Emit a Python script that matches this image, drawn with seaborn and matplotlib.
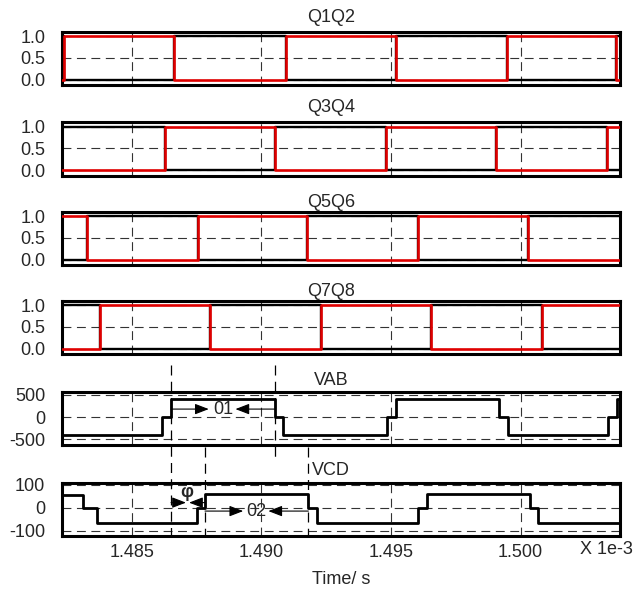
import numpy as np
import pandas as pd
import seaborn as sns
import matplotlib.pyplot as plt
from matplotlib.transforms import blended_transform_factory

# time axis in units of 1e-3 s
t_start, t_end = 1.48230, 1.50384
x_ticks = [1.485, 1.490, 1.495, 1.500]
x_tick_labels = ['1.485', '1.490', '1.495', '1.500']

# gate signals: edge times and the red trace level after each edge (black = complement)
q12_t = [t_start, 1.48238, 1.48663, 1.49093, 1.49519, 1.49947, 1.50369]
q12_red = [0, 1, 0, 1, 0, 1, 0]
q34_t = [t_start, 1.48627, 1.49052, 1.49481, 1.49905, 1.50333]
q34_red = [0, 1, 0, 1, 0, 1]
q56_t = [t_start, 1.48327, 1.48754, 1.49177, 1.49605, 1.50030]
q56_red = [1, 0, 1, 0, 1, 0]
q78_t = [t_start, 1.48376, 1.48801, 1.49230, 1.49653, 1.50082]
q78_red = [0, 1, 0, 1, 0, 1]

# bridge voltages
vab_t = [t_start, 1.48617, 1.48651, 1.49052, 1.49084, 1.49483, 1.49519,
         1.49918, 1.49951, 1.50337, 1.50371]
vab_v = [-400, 0, 400, 0, -400, 0, 400, 0, -400, 0, 400]
vcd_t = [t_start, 1.48312, 1.48364, 1.48750, 1.48782, 1.49181, 1.49213,
         1.49605, 1.49640, 1.50037, 1.50069]
vcd_v = [55, 0, -65, 0, 60, 0, -65, 0, 60, 0, -65]

titles = ['Q1Q2', 'Q3Q4', 'Q5Q6', 'Q7Q8', 'VAB', 'VCD']
title_pads = [7.2, 7.6, 3.6, 3.4, 4.8, 5.5]

sns.set_style('white')
plt.rcParams['font.family'] = ['Liberation Sans', 'DejaVu Sans']
plt.rcParams['font.size'] = 13

RED = '#e00000'
GRID = dict(color='#333333', linewidth=0.8, linestyle=(0, (8, 5)))

W, H = 634, 589
fig = plt.figure(figsize=(W / 100, H / 100), dpi=100)
tops_px = [31.7, 122.3, 211.7, 300.7, 391.7, 482.5]
h_px = 53.5
left_px, right_px = 62, 620


def steps(ax, t, v, color, lw):
    x = list(t) + [t_end]
    y = list(v) + [v[-1]]
    sns.lineplot(x=x, y=y, ax=ax, color=color, lw=lw, drawstyle='steps-post',
                 estimator=None, sort=False, legend=False, zorder=3)


axes = []
for i, top in enumerate(tops_px):
    ax = fig.add_axes([left_px / W, 1 - (top + h_px) / H, (right_px - left_px) / W, h_px / H])
    axes.append(ax)

gates = [(q12_t, q12_red), (q34_t, q34_red), (q56_t, q56_red), (q78_t, q78_red)]
for ax, (t, red) in zip(axes[:4], gates):
    steps(ax, t, [1 - r for r in red], 'black', 1.7)
    steps(ax, t, red, RED, 1.9)
    ax.set_ylim(-0.13, 1.10)
    ax.set_yticks([0, 0.5, 1.0])
    ax.set_yticklabels(['0.0', '0.5', '1.0'])

steps(axes[4], vab_t, vab_v, 'black', 2.0)
axes[4].set_ylim(-630, 570)
axes[4].set_yticks([-500, 0, 500])
axes[4].set_yticklabels(['-500', '0', '500'])

steps(axes[5], vcd_t, vcd_v, 'black', 2.0)
axes[5].set_ylim(-124, 110)
axes[5].set_yticks([-100, 0, 100])
axes[5].set_yticklabels(['-100', '0', '100'])

for i, ax in enumerate(axes):
    ax.set_xlim(t_start, t_end)
    ax.set_xticks(x_ticks)
    ax.grid(True, **GRID)
    ax.set_axisbelow(True)
    for s in ax.spines.values():
        s.set_visible(True)
        s.set_linewidth(2.2)
        s.set_color('black')
    ax.tick_params(length=0, pad=12, labelsize=13, axis='y')
    ax.tick_params(length=0, pad=5.8, labelsize=13, axis='x')
    ax.set_title(titles[i], x=0.482, pad=title_pads[i], fontsize=13)
    ax.set_xlabel('')
    ax.set_ylabel('')
    if i < 5:
        ax.set_xticklabels([])
    else:
        ax.set_xticklabels(x_tick_labels)

ax_ab, ax_cd = axes[4], axes[5]
ax_cd.set_xlabel('Time/ s', fontsize=13, labelpad=7)
fig.text(633 / W, 1 - 550 / H, 'X 1e-3', ha='right', va='center', fontsize=13)

# phase-shift markers spanning the two voltage panels
tr = blended_transform_factory(ax_cd.transData, fig.transFigure)
marks = [(vab_t[2], 365, 535), (vab_t[3], 365, 458), (vcd_t[4], 447, 535), (vcd_t[5], 447, 535)]
for xm, y0, y1 in marks:
    ax_cd.plot([xm, xm], [1 - y0 / H, 1 - y1 / H], transform=tr, clip_on=False,
               color='black', lw=0.9, linestyle=(0, (8, 5)), zorder=5)

arrow = dict(arrowstyle='-|>,head_length=0.7,head_width=0.27', color='black', lw=0.8,
             mutation_scale=12, shrinkA=0, shrinkB=0)

mid01 = (vab_t[2] + vab_t[3]) / 2
ax_ab.annotate('', xy=(mid01 - 0.00055, 180), xytext=(vab_t[2], 180), arrowprops=arrow)
ax_ab.annotate('', xy=(mid01 + 0.00048, 180), xytext=(vab_t[3], 180), arrowprops=arrow)
ax_ab.text(mid01, 180, '01', ha='center', va='center', fontsize=13)

mid02 = (vcd_t[4] + vcd_t[5]) / 2
ax_cd.annotate('', xy=(mid02 - 0.00052, -15), xytext=(vcd_t[4], -15), arrowprops=arrow)
ax_cd.annotate('', xy=(mid02 + 0.00045, -15), xytext=(vcd_t[5], -15), arrowprops=arrow)
ax_cd.text(mid02, -15, '02', ha='center', va='center', fontsize=13)

midphi = (vab_t[2] + vcd_t[4]) / 2
ax_cd.annotate('', xy=(midphi - 0.00008, 22), xytext=(vab_t[2], 22), arrowprops=arrow)
ax_cd.annotate('', xy=(midphi + 0.00004, 22), xytext=(vcd_t[4], 22), arrowprops=arrow)
ax_cd.text(midphi - 0.00005, 68, 'φ', ha='center', va='center', fontsize=13, fontweight='bold')

fig.savefig('out.png', dpi=100)
